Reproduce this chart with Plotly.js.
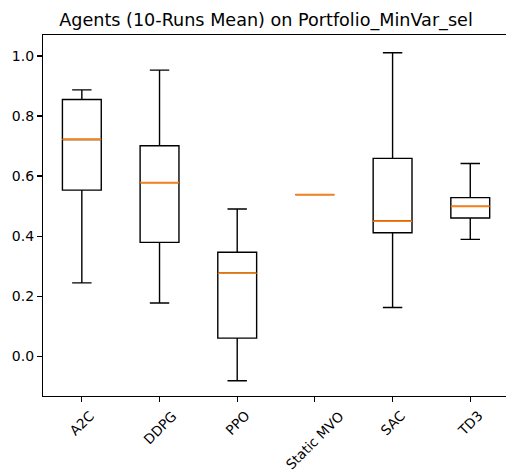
<!DOCTYPE html>
<html>
<head>
<meta charset="utf-8">
<script src="https://cdn.plot.ly/plotly-3.0.1.min.js"></script>
<style>html,body{margin:0;padding:0;background:#fff;}#chart{width:506px;height:474px;}</style>
</head>
<body>
<div id="chart"></div>
<script>
const agents = ["A2C", "DDPG", "PPO", "Static MVO", "SAC", "TD3"];
const lowerWhisker = [0.244, 0.177, -0.082, 0.538, 0.162, 0.389];
const q1Values = [0.553, 0.379, 0.060, 0.538, 0.411, 0.460];
const medianValues = [0.722, 0.578, 0.276, 0.538, 0.450, 0.499];
const q3Values = [0.855, 0.701, 0.346, 0.538, 0.659, 0.528];
const upperWhisker = [0.887, 0.953, 0.490, 0.538, 1.011, 0.642];
const yTickValues = [0.0, 0.2, 0.4, 0.6, 0.8, 1.0];
const titleText = "Agents (10-Runs Mean) on Portfolio_MinVar_sel";

const FONT = "DejaVu Sans, sans-serif";

const boxTrace = {
  type: "box",
  x: agents,
  q1: q1Values,
  median: medianValues,
  q3: q3Values,
  lowerfence: lowerWhisker,
  upperfence: upperWhisker,
  boxpoints: false,
  width: 0.5,
  whiskerwidth: 0.5,
  fillcolor: "rgba(0,0,0,0)",
  line: {color: "#000000", width: 1.4},
  hoverinfo: "skip",
  showlegend: false
};

const medianTrace = {
  type: "box",
  x: agents,
  q1: medianValues,
  median: medianValues,
  q3: medianValues,
  lowerfence: medianValues,
  upperfence: medianValues,
  boxpoints: false,
  width: 0.5,
  whiskerwidth: 0,
  fillcolor: "rgba(0,0,0,0)",
  line: {color: "#ff7f0e", width: 1.7},
  hoverinfo: "skip",
  showlegend: false
};

const annotations = agents.map(a => ({
  x: a, xref: "x",
  y: 0, yref: "paper",
  text: a,
  showarrow: false,
  textangle: -45,
  xanchor: "center",
  yanchor: "top",
  yshift: -9,
  font: {family: FONT, size: 13.6, color: "#000"}
}));

const layout = {
  width: 506,
  height: 474,
  margin: {l: 43, r: 0, t: 35, b: 78, pad: 0},
  paper_bgcolor: "#ffffff",
  plot_bgcolor: "#ffffff",
  boxmode: "overlay",
  showlegend: false,
  title: {
    text: titleText,
    font: {family: FONT, size: 17.6, color: "#000"},
    xref: "container", yref: "container",
    x: 266 / 506, xanchor: "center",
    y: 1 - 20 / 474, yanchor: "middle"
  },
  xaxis: {
    type: "category",
    range: [-0.5, 5.46],
    showline: true, mirror: true,
    linecolor: "#000", linewidth: 1.1,
    ticks: "outside", ticklen: 5, tickwidth: 1.1, tickcolor: "#000",
    showgrid: false, zeroline: false,
    showticklabels: false,
    fixedrange: true
  },
  yaxis: {
    range: [-0.133, 1.07],
    tickvals: yTickValues,
    ticktext: yTickValues.map(v => v.toFixed(1)),
    showline: true, mirror: false,
    linecolor: "#000", linewidth: 1.1,
    ticks: "outside", ticklen: 5, tickwidth: 1.1, tickcolor: "#000",
    showgrid: false, zeroline: false,
    tickfont: {family: FONT, size: 14, color: "#000"},
    fixedrange: true
  },
  annotations: annotations
};

Plotly.newPlot("chart", [boxTrace, medianTrace], layout, {displayModeBar: false, staticPlot: true});
</script>
</body>
</html>
